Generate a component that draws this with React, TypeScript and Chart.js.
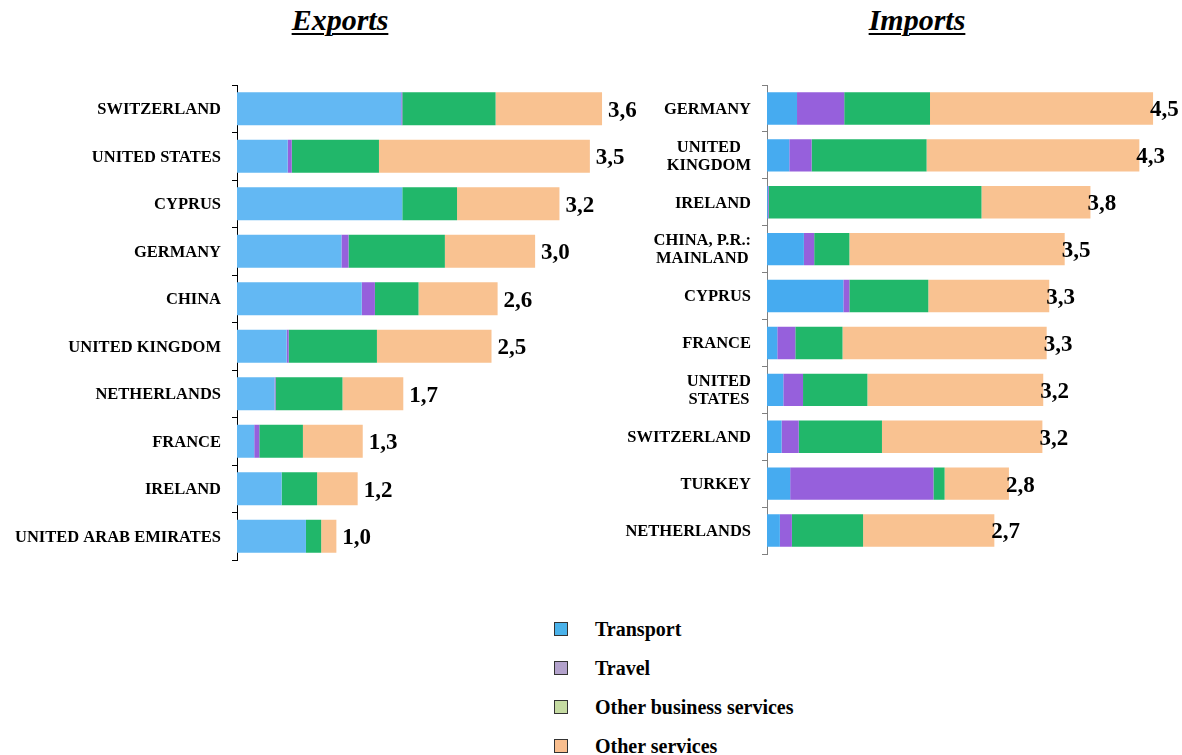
import React, { useEffect, useRef } from "react";
import { Chart, registerables } from "chart.js";

Chart.register(...registerables);

// ---------- DATA ----------
const exportCategories = [
  "SWITZERLAND",
  "UNITED STATES",
  "CYPRUS",
  "GERMANY",
  "CHINA",
  "UNITED KINGDOM",
  "NETHERLANDS",
  "FRANCE",
  "IRELAND",
  "UNITED ARAB EMIRATES",
];
const exportTransport = [1.62, 0.5, 1.63, 1.03, 1.23, 0.49, 0.37, 0.17, 0.44, 0.68];
const exportTravel = [0.01, 0.04, 0.0, 0.07, 0.13, 0.02, 0.01, 0.05, 0.0, 0.0];
const exportBusiness = [0.92, 0.86, 0.54, 0.95, 0.43, 0.87, 0.66, 0.43, 0.35, 0.15];
const exportOther = [1.05, 2.08, 1.01, 0.89, 0.78, 1.13, 0.6, 0.59, 0.4, 0.15];
const exportTotals = ["3,6", "3,5", "3,2", "3,0", "2,6", "2,5", "1,7", "1,3", "1,2", "1,0"];

const importCategories = [
  "GERMANY",
  ["UNITED", "KINGDOM"],
  "IRELAND",
  ["CHINA, P.R.:", "MAINLAND"],
  "CYPRUS",
  "FRANCE",
  ["UNITED", "STATES"],
  "SWITZERLAND",
  "TURKEY",
  "NETHERLANDS",
];
const importTransport = [0.35, 0.26, 0.01, 0.43, 0.89, 0.12, 0.19, 0.17, 0.27, 0.15];
const importTravel = [0.55, 0.26, 0.01, 0.12, 0.07, 0.21, 0.23, 0.2, 1.67, 0.14];
const importBusiness = [1.0, 1.34, 2.48, 0.41, 0.92, 0.55, 0.75, 0.97, 0.13, 0.83];
const importOther = [2.6, 2.48, 1.27, 2.51, 1.41, 2.38, 2.05, 1.87, 0.75, 1.53];
const importTotals = ["4,5", "4,3", "3,8", "3,5", "3,3", "3,3", "3,2", "3,2", "2,8", "2,7"];

const seriesNames = ["Transport", "Travel", "Other business services", "Other services"];
const legendColors = ["#4ab2ea", "#b3a2cc", "#c5dba2", "#f9be8e"];

const SERIF = '"Liberation Serif", "Times New Roman", serif';

// ---------- PLUGINS ----------
const yLabelsPlugin = {
  id: "yLabels",
  afterDraw(chart: any, _args: any, opts: any) {
    const ys = chart.scales.y;
    const ctx = chart.ctx;
    ctx.save();
    ctx.font = `bold ${opts.size}px ${SERIF}`;
    ctx.fillStyle = "#000";
    ctx.textBaseline = "middle";
    ctx.textAlign = "center";
    chart.data.labels.forEach((lab: any, i: number) => {
      const lines: string[] = Array.isArray(lab) ? lab : [lab];
      const w = Math.max(...lines.map((l) => ctx.measureText(l).width));
      const right = chart.chartArea.left - opts.gap;
      const cx = right - w / 2;
      const cy = ys.getPixelForValue(i) + 1;
      lines.forEach((l, k) => {
        ctx.fillText(l, cx, cy + (k - (lines.length - 1) / 2) * opts.lineHeight);
      });
    });
    ctx.restore();
  },
};

const totalsPlugin = {
  id: "totals",
  afterDraw(chart: any, _args: any, opts: any) {
    const xs = chart.scales.x;
    const ys = chart.scales.y;
    const ctx = chart.ctx;
    ctx.save();
    ctx.font = `bold ${opts.size}px ${SERIF}`;
    ctx.fillStyle = "#000";
    ctx.textBaseline = "middle";
    ctx.textAlign = "left";
    chart.data.labels.forEach((_l: any, i: number) => {
      let sum = 0;
      chart.data.datasets.forEach((ds: any) => (sum += ds.data[i]));
      const x = xs.getPixelForValue(sum) + opts.offset;
      const y = ys.getPixelForValue(i) + opts.dy;
      ctx.fillText(opts.labels[i], x, y);
    });
    ctx.restore();
  },
};

function makeConfig(p: {
  labels: any[];
  data: number[][];
  colors: string[];
  totals: string[];
  xMax: number;
  axisWidth: number;
  padTop: number;
  padBottom: number;
  padRight: number;
  axisColor: string;
  labelOffset: number;
}) {
  return {
    type: "bar",
    data: {
      labels: p.labels,
      datasets: p.data.map((d, k) => ({
        label: seriesNames[k],
        data: d,
        backgroundColor: p.colors[k],
        borderWidth: 0,
        barPercentage: 0.69,
        categoryPercentage: 1,
      })),
    },
    options: {
      indexAxis: "y",
      animation: false,
      responsive: false,
      maintainAspectRatio: false,
      layout: { padding: { top: p.padTop, bottom: p.padBottom, right: p.padRight, left: 0 } },
      plugins: {
        legend: { display: false },
        tooltip: { enabled: false },
        yLabels: { size: 16.5, gap: 16, lineHeight: 18 },
        totals: { size: 23, offset: p.labelOffset, dy: 2, labels: p.totals },
      },
      scales: {
        x: { stacked: true, display: false, min: 0, max: p.xMax },
        y: {
          stacked: true,
          afterFit: (scale: any) => {
            scale.width = p.axisWidth;
          },
          grid: {
            offset: true,
            drawOnChartArea: false,
            drawTicks: true,
            tickLength: 5,
            color: p.axisColor,
          },
          border: { display: true, color: p.axisColor, width: 1 },
          ticks: { color: "rgba(0,0,0,0)", font: { size: 1 } },
        },
      },
    },
    plugins: [yLabelsPlugin, totalsPlugin],
  };
}

function BarChart(props: { config: any; style: React.CSSProperties; width: number; height: number }) {
  const ref = useRef<HTMLCanvasElement | null>(null);
  useEffect(() => {
    if (!ref.current) return;
    const chart = new Chart(ref.current, props.config);
    return () => chart.destroy();
  }, []);
  return <canvas ref={ref} width={props.width} height={props.height} style={{ position: "absolute", ...props.style }} />;
}

const titleStyle: React.CSSProperties = {
  position: "absolute",
  top: 2,
  width: 200,
  textAlign: "center",
  fontFamily: SERIF,
  fontWeight: "bold",
  fontStyle: "italic",
  fontSize: 30,
  lineHeight: "36px",
  color: "#000",
  textDecoration: "underline",
  textDecorationThickness: "2px",
  textUnderlineOffset: "3px",
};

export default function App() {
  const exportsConfig = makeConfig({
    labels: exportCategories,
    data: [exportTransport, exportTravel, exportBusiness, exportOther],
    colors: ["#63b8f3", "#9660dc", "#21b76a", "#f9c291"],
    totals: exportTotals,
    xMax: 4,
    axisWidth: 237,
    padTop: 85,
    padBottom: 40,
    padRight: 660 - 237 - 405.6,
    axisColor: "#000",
    labelOffset: 6,
  });
  const importsConfig = makeConfig({
    labels: importCategories,
    data: [importTransport, importTravel, importBusiness, importOther],
    colors: ["#46abf0", "#9660dc", "#21b76a", "#f9c291"],
    totals: importTotals,
    xMax: 4.8,
    axisWidth: 167,
    padTop: 85,
    padBottom: 46,
    padRight: 582 - 167 - 411.8,
    axisColor: "#808080",
    labelOffset: -3,
  });

  return (
    <div style={{ position: "absolute", left: 0, top: 0, width: 1182, height: 755, background: "#fff", overflow: "hidden" }}>
      <div style={{ ...titleStyle, left: 340 - 100 }}>Exports</div>
      <div style={{ ...titleStyle, left: 917 - 100 }}>Imports</div>
      <BarChart config={exportsConfig} width={660} height={600} style={{ left: 0, top: 0 }} />
      <BarChart config={importsConfig} width={582} height={600} style={{ left: 600, top: 0 }} />
      {seriesNames.map((name, k) => (
        <div key={name} style={{ position: "absolute", left: 554, top: 619 + k * 39, height: 20, display: "flex", alignItems: "center" }}>
          <div
            style={{
              width: 14,
              height: 14,
              background: legendColors[k],
              border: "1px solid #333",
              boxSizing: "border-box",
            }}
          />
          <div
            style={{
              marginLeft: 27,
              fontFamily: SERIF,
              fontWeight: "bold",
              fontSize: 20,
              color: "#000",
              lineHeight: "20px",
              whiteSpace: "nowrap",
            }}
          >
            {name}
          </div>
        </div>
      ))}
    </div>
  );
}
